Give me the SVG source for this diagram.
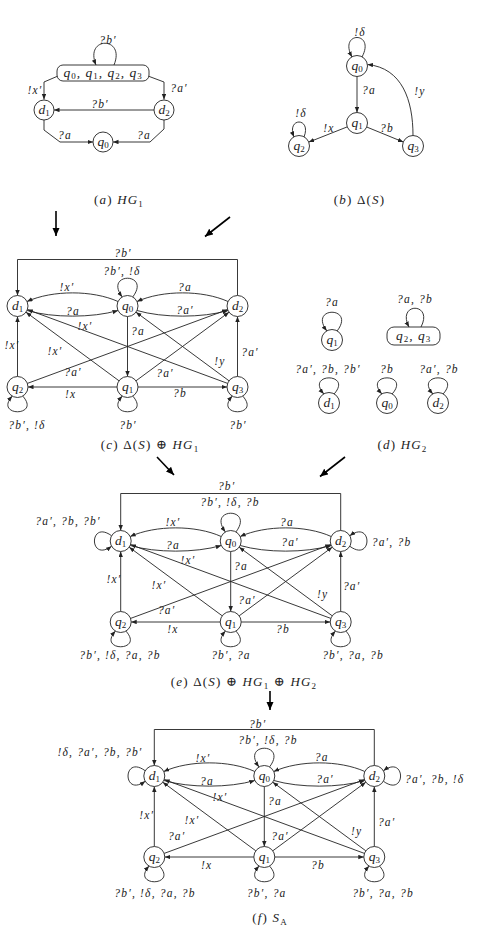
<svg xmlns="http://www.w3.org/2000/svg" width="478" height="931" viewBox="0 0 478 931">
<defs>
<marker id="ah" markerWidth="7" markerHeight="6" refX="5.5" refY="2.2" orient="auto" markerUnits="userSpaceOnUse"><path d="M0,0 L5.5,2.2 L0,4.4 z" fill="#222"/></marker>
<marker id="big" markerWidth="10" markerHeight="9" refX="8" refY="3.5" orient="auto" markerUnits="userSpaceOnUse"><path d="M0,0 L8,3.5 L0,7 z" fill="#000"/></marker>
<style>
.n{fill:#fff;stroke:#222;stroke-width:0.9}
.e{fill:none;stroke:#222;stroke-width:0.9;marker-end:url(#ah)}
.big{fill:none;stroke:#000;stroke-width:1.6;marker-end:url(#big)}
.t{font-family:"Liberation Serif","DejaVu Serif",serif;font-size:11.5px;font-style:italic;fill:#222;text-anchor:middle;letter-spacing:1.2px}
.ts{font-family:"Liberation Serif","DejaVu Serif",serif;font-size:11.5px;font-style:italic;fill:#222;text-anchor:start;letter-spacing:1.2px}
.nt{font-family:"Liberation Serif","DejaVu Serif",serif;font-size:13.5px;font-style:italic;fill:#222;text-anchor:middle}
.nw{letter-spacing:1px}
.cap{font-family:"Liberation Serif","DejaVu Serif",serif;font-size:13px;fill:#222;text-anchor:middle;letter-spacing:1.2px}
.i{font-style:italic}
.s{font-size:9px;font-style:normal}
</style>
</defs>

<!-- ================= connectors ================= -->
<g id="connectors">
  <!-- panel a -->
  <g id="conn-a">
    <path class="e" d="M114,65 C126,36 84,36 96,65"/>
    <path class="e" d="M58,76 L44,82 L44,99.5"/>
    <path class="e" d="M148,76 L164,82 L164,99.5"/>
    <path class="e" d="M154,110 L54,110"/>
    <path class="e" d="M44,120 L44,130 L60,142 L93,142"/>
    <path class="e" d="M164,120 L164,129 L150,142 L113,142"/>
  </g>
  <!-- panel b -->
  <g id="conn-b">
    <path class="e" d="M362,57 C376,31 338,31 352,57"/>
    <path class="e" d="M357,76.5 L357,112.5"/>
    <path class="e" d="M347.2,126.9 L308.8,142.1"/>
    <path class="e" d="M366.7,127 L403.3,142"/>
    <path class="e" d="M413,135.5 C413,100 402,68 367.5,64.5"/>
    <path class="e" d="M304,137 C312,117 286,117 294,137"/>
  </g>
  <!-- panel c -->
  <g id="conn-c" transform="translate(17.5,306)">
    <path class="e" d="M220,-10.5 V-46.5 H0 V-10.5"/>
    <path class="e" d="M100.5,-4.5 C75,-16 35,-16 9.5,-4.5"/>
    <path class="e" d="M9.5,4.5 C35,12 75,12 100.5,4.5"/>
    <path class="e" d="M210.5,-4.5 C185,-16 145,-16 119.5,-4.5"/>
    <path class="e" d="M119.5,4.5 C145,12 185,12 210.5,4.5"/>
    <path class="e" d="M110,10.5 V70.5"/>
    <path class="e" d="M0,70.5 V10.5"/>
    <path class="e" d="M220,70.5 V10.5"/>
    <path class="e" d="M99.5,81 H10.5"/>
    <path class="e" d="M120.5,81 H209.5"/>
    <path class="e" d="M101.5,74.8 L8.5,6.2"/>
    <path class="e" d="M210.1,77.4 L9.9,3.6"/>
    <path class="e" d="M211.5,74.8 L118.5,6.2"/>
    <path class="e" d="M9.9,77.4 L210.1,3.6"/>
    <path class="e" d="M118.5,74.8 L211.5,6.2"/>
    <path class="e" d="M115.3,-9.1 C134,-34 86,-34 104.7,-9.1"/>
    <path class="e" d="M5.25,90.1 C24,111 -24,111 -5.25,90.1"/>
    <path class="e" d="M115.25,90.1 C134,111 86,111 104.75,90.1"/>
    <path class="e" d="M225.25,90.1 C244,111 196,111 214.75,90.1"/>
  </g>
  <!-- panel d -->
  <g id="conn-d">
    <path class="e" d="M337.2,330.9 C356,306 308,306 326.8,330.9"/>
    <path class="e" d="M421,327 C434,302 396,302 409,327"/>
    <path class="e" d="M334.2,393.9 C353,372.5 305,372.5 323.8,393.9"/>
    <path class="e" d="M392.2,393.9 C411,372.5 363,372.5 381.8,393.9"/>
    <path class="e" d="M443.2,393.9 C462,372.5 414,372.5 432.8,393.9"/>
  </g>
  <!-- panel e -->
  <g id="conn-e" transform="translate(120.7,541)">
    <path class="e" d="M220,-10.5 V-47.5 H0 V-10.5"/>
    <path class="e" d="M100.5,-4.5 C75,-16 35,-16 9.5,-4.5"/>
    <path class="e" d="M9.5,4.5 C35,12 75,12 100.5,4.5"/>
    <path class="e" d="M210.5,-4.5 C185,-16 145,-16 119.5,-4.5"/>
    <path class="e" d="M119.5,4.5 C145,12 185,12 210.5,4.5"/>
    <path class="e" d="M110,10.5 V70.5"/>
    <path class="e" d="M0,70.5 V10.5"/>
    <path class="e" d="M220,70.5 V10.5"/>
    <path class="e" d="M99.5,81 H10.5"/>
    <path class="e" d="M120.5,81 H209.5"/>
    <path class="e" d="M101.5,74.8 L8.5,6.2"/>
    <path class="e" d="M210.1,77.4 L9.9,3.6"/>
    <path class="e" d="M211.5,74.8 L118.5,6.2"/>
    <path class="e" d="M9.9,77.4 L210.1,3.6"/>
    <path class="e" d="M118.5,74.8 L211.5,6.2"/>
    <path class="e" d="M115.3,-9.1 C134,-34 86,-34 104.7,-9.1"/>
    <path class="e" d="M5.25,90.1 C24,111 -24,111 -5.25,90.1"/>
    <path class="e" d="M115.25,90.1 C134,111 86,111 104.75,90.1"/>
    <path class="e" d="M225.25,90.1 C244,111 196,111 214.75,90.1"/>
    <path class="e" d="M-9.1,-5.25 C-32,-22 -32,22 -9.1,5.25"/>
    <path class="e" d="M229.1,5.25 C252,22 252,-22 229.1,-5.25"/>
  </g>
  <!-- panel f -->
  <g id="conn-f" transform="translate(154.3,776)">
    <path class="e" d="M220,-10.5 V-46.5 H0 V-10.5"/>
    <path class="e" d="M100.5,-4.5 C75,-16 35,-16 9.5,-4.5"/>
    <path class="e" d="M9.5,4.5 C35,12 75,12 100.5,4.5"/>
    <path class="e" d="M210.5,-4.5 C185,-16 145,-16 119.5,-4.5"/>
    <path class="e" d="M119.5,4.5 C145,12 185,12 210.5,4.5"/>
    <path class="e" d="M110,10.5 V70.5"/>
    <path class="e" d="M0,70.5 V10.5"/>
    <path class="e" d="M220,70.5 V10.5"/>
    <path class="e" d="M99.5,81 H10.5"/>
    <path class="e" d="M120.5,81 H209.5"/>
    <path class="e" d="M101.5,74.8 L8.5,6.2"/>
    <path class="e" d="M210.1,77.4 L9.9,3.6"/>
    <path class="e" d="M211.5,74.8 L118.5,6.2"/>
    <path class="e" d="M9.9,77.4 L210.1,3.6"/>
    <path class="e" d="M118.5,74.8 L211.5,6.2"/>
    <path class="e" d="M115.3,-9.1 C134,-34 86,-34 104.7,-9.1"/>
    <path class="e" d="M5.25,90.1 C24,111 -24,111 -5.25,90.1"/>
    <path class="e" d="M115.25,90.1 C134,111 86,111 104.75,90.1"/>
    <path class="e" d="M225.25,90.1 C244,111 196,111 214.75,90.1"/>
    <path class="e" d="M-9.1,-5.25 C-32,-22 -32,22 -9.1,5.25"/>
    <path class="e" d="M229.1,5.25 C252,22 252,-22 229.1,-5.25"/>
  </g>
  <!-- transformation arrows -->
  <g id="conn-steps">
    <path class="big" d="M56,211 L56,236"/>
    <path class="big" d="M230,217 L205,236.5"/>
    <path class="big" d="M157,457 L174,475"/>
    <path class="big" d="M345,457 L320,476.5"/>
    <path class="big" d="M270,691 L270,710"/>
  </g>
</g>

<!-- ================= edge labels ================= -->
<g id="edge-labels">
  <g id="lab-a">
    <text class="t" x="108" y="44">?b′</text>
    <text class="t" x="35" y="93.5">!x′</text>
    <text class="t" x="179" y="91.5">?a′</text>
    <text class="t" x="100" y="107.5">?b′</text>
    <text class="t" x="65" y="138.5">?a</text>
    <text class="t" x="144" y="138.5">?a</text>
  </g>
  <g id="lab-b">
    <text class="t" x="360" y="35.5">!δ</text>
    <text class="t" x="369" y="93.5">?a</text>
    <text class="t" x="420" y="95">!y</text>
    <text class="t" x="329" y="131.5">!x</text>
    <text class="t" x="387" y="131.5">?b</text>
    <text class="t" x="301" y="116.5">!δ</text>
  </g>
  <g id="lab-c" transform="translate(17.5,306)">
    <text class="t" x="105.5" y="-49.5">?b′</text>
    <text class="t" x="104.5" y="-31.5">?b′, !δ</text>
    <text class="t" x="49.5" y="-15">!x′</text>
    <text class="t" x="55.5" y="9.2">?a</text>
    <text class="t" x="167.5" y="-15.5">?a</text>
    <text class="t" x="167.5" y="7.5">?a′</text>
    <text class="t" x="67.5" y="24.2">!x′</text>
    <text class="t" x="37.5" y="49.2">!x′</text>
    <text class="t" x="-5.5" y="43.2">!x′</text>
    <text class="t" x="120.5" y="28.5">?a</text>
    <text class="t" x="202.5" y="58.5">!y</text>
    <text class="t" x="232.5" y="50.2">?a′</text>
    <text class="t" x="55.5" y="70.2">?a′</text>
    <text class="t" x="147.5" y="70.8">?a′</text>
    <text class="t" x="53.2" y="91.5">!x</text>
    <text class="t" x="162.5" y="90.5">?b</text>
    <text class="t" x="9.5" y="122.5">?b′, !δ</text>
    <text class="t" x="110.5" y="122.5">?b′</text>
    <text class="t" x="220.5" y="122.5">?b′</text>
  </g>
  <g id="lab-d">
    <text class="t" x="332" y="305.5">?a</text>
    <text class="t" x="415" y="302.5">?a, ?b</text>
    <text class="t" x="328" y="372.8">?a′, ?b, ?b′</text>
    <text class="t" x="387" y="372.8">?b</text>
    <text class="t" x="439" y="372.8">?a′, ?b</text>
  </g>
  <g id="lab-e" transform="translate(120.7,541)">
    <text class="t" x="106" y="-50.8">?b′</text>
    <text class="t" x="109.3" y="-34.8">?b′, !δ, ?b</text>
    <text class="t" x="-52.7" y="-15.8">?a′, ?b, ?b′</text>
    <text class="ts" x="251" y="4.8">?a′, ?b</text>
    <text class="t" x="52.3" y="-15">!x′</text>
    <text class="t" x="52.3" y="8.2">?a</text>
    <text class="t" x="166.3" y="-15.5">?a</text>
    <text class="t" x="169.3" y="4.8">?a′</text>
    <text class="t" x="67.3" y="23.2">!x′</text>
    <text class="t" x="120.3" y="28.5">?a</text>
    <text class="t" x="-6.7" y="41.5">!x′</text>
    <text class="t" x="38.3" y="47.5">!x′</text>
    <text class="t" x="202" y="56.5">!y</text>
    <text class="t" x="231" y="48.5">?a′</text>
    <text class="t" x="126.3" y="62.5">?a′</text>
    <text class="t" x="46" y="73.2">?a′</text>
    <text class="t" x="52.3" y="91.5">!x</text>
    <text class="t" x="162.3" y="91.5">?b</text>
    <text class="t" x="-0.7" y="117.5">?b′, !δ, ?a, ?b</text>
    <text class="t" x="110.3" y="117.5">?b′, ?a</text>
    <text class="t" x="232.3" y="117.5">?b′, ?a, ?b</text>
  </g>
  <g id="lab-f" transform="translate(154.3,776)">
    <text class="t" x="103.4" y="-48.5">?b′</text>
    <text class="t" x="113.7" y="-32.5">?b′, !δ, ?b</text>
    <text class="t" x="-54.3" y="-19.8">!δ, ?a′, ?b, ?b′</text>
    <text class="ts" x="250.7" y="6.5">?a′, ?b, !δ</text>
    <text class="t" x="48.7" y="-14.5">!x′</text>
    <text class="t" x="52.7" y="8.5">?a</text>
    <text class="t" x="167.4" y="-15">?a</text>
    <text class="t" x="170.7" y="6.5">?a′</text>
    <text class="t" x="65.7" y="25.2">!x′</text>
    <text class="t" x="120.7" y="28.5">?a</text>
    <text class="t" x="-7.6" y="42.5">!x′</text>
    <text class="t" x="37.7" y="47.5">!x′</text>
    <text class="t" x="202.4" y="58.5">!y</text>
    <text class="t" x="232.4" y="50.2">?a′</text>
    <text class="t" x="125.7" y="63.5">?a′</text>
    <text class="t" x="22.4" y="64.2">?a′</text>
    <text class="t" x="52.4" y="92.5">!x</text>
    <text class="t" x="163.7" y="92.5">?b</text>
    <text class="t" x="0.7" y="120.8">?b′, !δ, ?a, ?b</text>
    <text class="t" x="112.4" y="120.5">?b′, ?a</text>
    <text class="t" x="228.7" y="120.5">?b′, ?a, ?b</text>
  </g>
</g>

<!-- ================= nodes ================= -->
<g id="nodes">
  <!-- panel a -->
  <g id="a-q0123"><rect class="n" x="57" y="65" width="92" height="16" rx="6"/><text class="nt nw" x="103" y="77">q<tspan class="s" dy="2">0</tspan><tspan dy="-2">, q</tspan><tspan class="s" dy="2">1</tspan><tspan dy="-2">, q</tspan><tspan class="s" dy="2">2</tspan><tspan dy="-2">, q</tspan><tspan class="s" dy="2">3</tspan></text></g>
  <g id="a-d1"><circle class="n" cx="44" cy="110" r="10"/><text class="nt" x="44" y="113.5">d<tspan class="s" dy="2">1</tspan></text></g>
  <g id="a-d2"><circle class="n" cx="164" cy="110" r="10"/><text class="nt" x="164" y="113.5">d<tspan class="s" dy="2">2</tspan></text></g>
  <g id="a-q0"><circle class="n" cx="103" cy="142" r="10"/><text class="nt" x="103" y="145.5">q<tspan class="s" dy="2">0</tspan></text></g>
  <!-- panel b -->
  <g id="b-q0"><circle class="n" cx="357" cy="66" r="10.5"/><text class="nt" x="357" y="69.5">q<tspan class="s" dy="2">0</tspan></text></g>
  <g id="b-q1"><circle class="n" cx="357" cy="123" r="10.5"/><text class="nt" x="357" y="126.5">q<tspan class="s" dy="2">1</tspan></text></g>
  <g id="b-q2"><circle class="n" cx="299" cy="146" r="10.5"/><text class="nt" x="299" y="149.5">q<tspan class="s" dy="2">2</tspan></text></g>
  <g id="b-q3"><circle class="n" cx="413" cy="146" r="10.5"/><text class="nt" x="413" y="149.5">q<tspan class="s" dy="2">3</tspan></text></g>
  <!-- panel c -->
  <g transform="translate(17.5,306)">
    <g id="c-d1"><circle class="n" cx="0" cy="0" r="10.5"/><text class="nt" x="0" y="3.5">d<tspan class="s" dy="2">1</tspan></text></g>
    <g id="c-q0"><circle class="n" cx="110" cy="0" r="10.5"/><text class="nt" x="110" y="3.5">q<tspan class="s" dy="2">0</tspan></text></g>
    <g id="c-d2"><circle class="n" cx="220" cy="0" r="10.5"/><text class="nt" x="220" y="3.5">d<tspan class="s" dy="2">2</tspan></text></g>
    <g id="c-q2"><circle class="n" cx="0" cy="81" r="10.5"/><text class="nt" x="0" y="84.5">q<tspan class="s" dy="2">2</tspan></text></g>
    <g id="c-q1"><circle class="n" cx="110" cy="81" r="10.5"/><text class="nt" x="110" y="84.5">q<tspan class="s" dy="2">1</tspan></text></g>
    <g id="c-q3"><circle class="n" cx="220" cy="81" r="10.5"/><text class="nt" x="220" y="84.5">q<tspan class="s" dy="2">3</tspan></text></g>
  </g>
  <!-- panel d -->
  <g id="d-q1"><circle class="n" cx="332" cy="340" r="10.5"/><text class="nt" x="332" y="343.5">q<tspan class="s" dy="2">1</tspan></text></g>
  <g id="d-q23"><rect class="n" x="387" y="327" width="53" height="18" rx="7"/><text class="nt nw" x="413.5" y="340">q<tspan class="s" dy="2">2</tspan><tspan dy="-2">, q</tspan><tspan class="s" dy="2">3</tspan></text></g>
  <g id="d-d1"><circle class="n" cx="329" cy="403" r="10.5"/><text class="nt" x="329" y="406.5">d<tspan class="s" dy="2">1</tspan></text></g>
  <g id="d-q0"><circle class="n" cx="387" cy="403" r="10.5"/><text class="nt" x="387" y="406.5">q<tspan class="s" dy="2">0</tspan></text></g>
  <g id="d-d2"><circle class="n" cx="438" cy="403" r="10.5"/><text class="nt" x="438" y="406.5">d<tspan class="s" dy="2">2</tspan></text></g>
  <!-- panel e -->
  <g transform="translate(120.7,541)">
    <g id="e-d1"><circle class="n" cx="0" cy="0" r="10.5"/><text class="nt" x="0" y="3.5">d<tspan class="s" dy="2">1</tspan></text></g>
    <g id="e-q0"><circle class="n" cx="110" cy="0" r="10.5"/><text class="nt" x="110" y="3.5">q<tspan class="s" dy="2">0</tspan></text></g>
    <g id="e-d2"><circle class="n" cx="220" cy="0" r="10.5"/><text class="nt" x="220" y="3.5">d<tspan class="s" dy="2">2</tspan></text></g>
    <g id="e-q2"><circle class="n" cx="0" cy="81" r="10.5"/><text class="nt" x="0" y="84.5">q<tspan class="s" dy="2">2</tspan></text></g>
    <g id="e-q1"><circle class="n" cx="110" cy="81" r="10.5"/><text class="nt" x="110" y="84.5">q<tspan class="s" dy="2">1</tspan></text></g>
    <g id="e-q3"><circle class="n" cx="220" cy="81" r="10.5"/><text class="nt" x="220" y="84.5">q<tspan class="s" dy="2">3</tspan></text></g>
  </g>
  <!-- panel f -->
  <g transform="translate(154.3,776)">
    <g id="f-d1"><circle class="n" cx="0" cy="0" r="10.5"/><text class="nt" x="0" y="3.5">d<tspan class="s" dy="2">1</tspan></text></g>
    <g id="f-q0"><circle class="n" cx="110" cy="0" r="10.5"/><text class="nt" x="110" y="3.5">q<tspan class="s" dy="2">0</tspan></text></g>
    <g id="f-d2"><circle class="n" cx="220" cy="0" r="10.5"/><text class="nt" x="220" y="3.5">d<tspan class="s" dy="2">2</tspan></text></g>
    <g id="f-q2"><circle class="n" cx="0" cy="81" r="10.5"/><text class="nt" x="0" y="84.5">q<tspan class="s" dy="2">2</tspan></text></g>
    <g id="f-q1"><circle class="n" cx="110" cy="81" r="10.5"/><text class="nt" x="110" y="84.5">q<tspan class="s" dy="2">1</tspan></text></g>
    <g id="f-q3"><circle class="n" cx="220" cy="81" r="10.5"/><text class="nt" x="220" y="84.5">q<tspan class="s" dy="2">3</tspan></text></g>
  </g>
</g>

<!-- ================= captions ================= -->
<g id="captions">
  <text class="cap" x="119" y="204">(<tspan class="i">a</tspan>) <tspan class="i">HG</tspan><tspan class="s" dy="2.5">1</tspan></text>
  <text class="cap" x="359.5" y="204">(<tspan class="i">b</tspan>) Δ(<tspan class="i">S</tspan>)</text>
  <text class="cap" x="150" y="449">(<tspan class="i">c</tspan>) Δ(<tspan class="i">S</tspan>)  ⊕  <tspan class="i">HG</tspan><tspan class="s" dy="2.5">1</tspan></text>
  <text class="cap" x="402.5" y="449">(<tspan class="i">d</tspan>) <tspan class="i">HG</tspan><tspan class="s" dy="2.5">2</tspan></text>
  <text class="cap" x="244" y="686">(<tspan class="i">e</tspan>) Δ(<tspan class="i">S</tspan>)  ⊕  <tspan class="i">HG</tspan><tspan class="s" dy="2.5">1</tspan><tspan dy="-2.5">  ⊕  </tspan><tspan class="i">HG</tspan><tspan class="s" dy="2.5">2</tspan></text>
  <text class="cap" x="270" y="922">(<tspan class="i">f</tspan>) <tspan class="i">S</tspan><tspan class="s" dy="2.5">A</tspan></text>
</g>
</svg>
